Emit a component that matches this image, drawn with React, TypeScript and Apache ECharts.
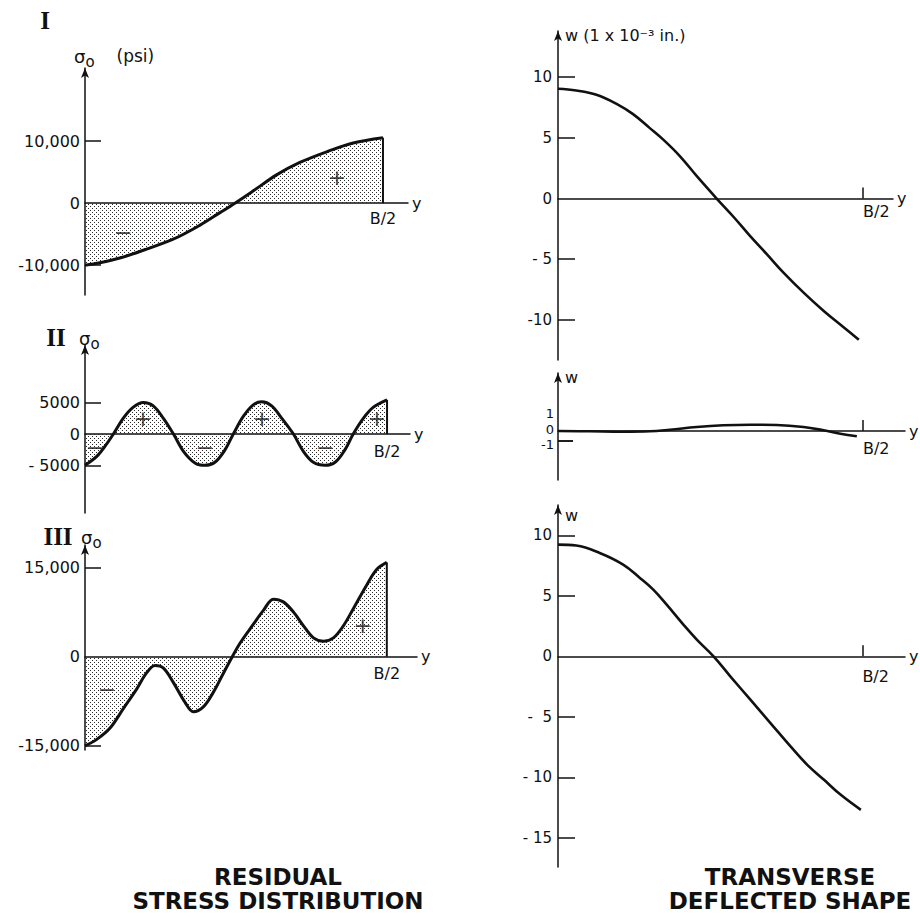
import React, { useEffect, useRef } from 'react';
import * as echarts from 'echarts';

// ---------------- data (x in units of B/2) ----------------
// Residual stress distributions (psi)
const stressIx = [0, 0.05, 0.117, 0.196, 0.296, 0.386, 0.453, 0.503, 0.565, 0.643, 0.721, 0.811, 0.9, 1.0];
const stressIv = [-10000, -9600, -8840, -7580, -5810, -3540, -1520, 0, 2000, 4570, 6570, 8290, 9710, 10570];

const stressIIx = [0, 0.039, 0.066, 0.094, 0.127, 0.16, 0.193, 0.226, 0.259, 0.293, 0.326, 0.364, 0.397, 0.43, 0.464, 0.491, 0.524, 0.557, 0.585, 0.618, 0.651, 0.69, 0.723, 0.756, 0.795, 0.828, 0.861, 0.888, 0.922, 0.955, 1.0];
const stressIIv = [-4950, -3530, -1950, 0, 2530, 4260, 5000, 4470, 2530, 0, -2740, -4580, -4950, -4470, -2470, 0, 2790, 4630, 5100, 4470, 2530, 0, -2740, -4470, -4950, -4470, -2470, 0, 2530, 4260, 5420];

const stressIIIx = [0, 0.039, 0.083, 0.127, 0.171, 0.204, 0.232, 0.26, 0.293, 0.331, 0.359, 0.392, 0.425, 0.459, 0.488, 0.514, 0.558, 0.591, 0.624, 0.657, 0.691, 0.724, 0.757, 0.79, 0.823, 0.856, 0.889, 0.934, 0.967, 1.0];
const stressIIIv = [-15000, -13910, -12000, -8730, -5450, -2730, -1470, -1910, -4360, -7640, -9270, -8450, -6000, -2730, 0, 2310, 5480, 7790, 9690, 9230, 7500, 5190, 3170, 2600, 3170, 5190, 8080, 12120, 14710, 15870];

// Transverse deflected shapes (1e-3 in.)
const deflIx = [0, 0.06, 0.126, 0.192, 0.246, 0.301, 0.345, 0.4, 0.455, 0.52, 0.575, 0.63, 0.685, 0.739, 0.805, 0.871, 0.936, 0.986];
const deflIv = [9.04, 8.9, 8.55, 7.8, 6.95, 5.8, 4.85, 3.48, 1.84, 0, -1.5, -3.1, -4.6, -6.1, -7.75, -9.26, -10.6, -11.64];

const deflIIx = [0, 0.104, 0.214, 0.301, 0.367, 0.455, 0.542, 0.63, 0.717, 0.805, 0.871, 0.926, 0.98];
const deflIIv = [0, -0.03, -0.07, -0.03, 0.13, 0.4, 0.57, 0.63, 0.6, 0.4, 0.07, -0.27, -0.53];

const deflIIIx = [0, 0.06, 0.137, 0.214, 0.269, 0.313, 0.357, 0.412, 0.456, 0.511, 0.566, 0.632, 0.698, 0.764, 0.819, 0.874, 0.929, 0.995];
const deflIIIv = [9.23, 9.15, 8.54, 7.58, 6.48, 5.51, 4.27, 2.62, 1.38, 0, -1.65, -3.58, -5.51, -7.44, -8.96, -10.2, -11.44, -12.68];

// sign annotations inside the shaded areas: [x, value, sign]
const signsI: [number, number, string][] = [[0.128, -4800, '−'], [0.846, 4200, '+']];
const signsII: [number, number, string][] = [
  [0.033, -2200, '−'], [0.192, 2400, '+'], [0.397, -2200, '−'],
  [0.586, 2400, '+'], [0.795, -2200, '−'], [0.967, 2400, '+'],
];
const signsIII: [number, number, string][] = [[0.073, -5600, '−'], [0.92, 5300, '+']];

// tick labels
const yLabelValsI = [10000, 0, -10000];
const yLabelsI = ['10,000', '0', '-10,000'];
const yTickValsI = [10000, -10000];
const yLabelValsII = [5000, 0, -5000];
const yLabelsII = ['5000', '0', '- 5000'];
const yTickValsII = [5000, -5000];
const yLabelValsIII = [15000, 0, -15000];
const yLabelsIII = ['15,000', '0', '-15,000'];
const yTickValsIII = [15000, -15000];

const yLabelValsIV = [10, 5, 0, -5, -10];
const yLabelsIV = ['10', '5', '0', '- 5', '-10'];
const yTickValsIV = [10, 5, -5, -10];
// middle deflection panel: labels split over two axes (they sit very close)
const yLabelValsV = [1, 0];
const yLabelsV = ['{up|1}', '{z0|0}'];
const yTickValsV: number[] = [];
const yLabelValsVb = [-1];
const yLabelsVb = ['{dn|-1}'];
const yTickValsVb = [-1];
const yLabelValsVI = [10, 5, 0, -5, -10, -15];
const yLabelsVI = ['10', '5', '0', '-  5', '- 10', '- 15'];
const yTickValsVI = [10, 5, -5, -10, -15];

const xEndValue = 1; // B/2
const xEndLabel = 'B/2';

// ---------------- styling ----------------
const INK = '#111';
const FONT = 'DejaVu Sans';

function dotPattern(): string {
  const c = document.createElement('canvas');
  c.width = 4;
  c.height = 4;
  const g = c.getContext('2d')!;
  g.fillStyle = '#2a2a2a';
  g.fillRect(0, 0, 1, 1);
  g.fillRect(2, 2, 1, 1);
  return c.toDataURL();
}

const pairs = (xs: number[], vs: number[]) => xs.map((x, i) => [x, vs[i]]);

function labelFormatter(vals: number[], labels: string[]) {
  return (v: number) => {
    const k = vals.findIndex((t) => Math.abs(t - v) < 1e-6 * Math.max(1, Math.abs(t)));
    return k >= 0 ? labels[k] : '';
  };
}

function buildOption(pattern: string) {
  const gridBoxes = [
    { left: 85, top: 68, width: 323, height: 227 },
    { left: 85, top: 345, width: 325, height: 168 },
    { left: 85, top: 545, width: 332, height: 205 },
    { left: 558, top: 31, width: 335, height: 329 },
    { left: 558, top: 373, width: 347, height: 107 },
    { left: 558, top: 505, width: 347, height: 362 },
  ];
  const grids = gridBoxes.map((g) => ({ ...g, containLabel: false, outerBoundsMode: 'none' }));

  const xMax = [1.084, 1.076, 1.1, 1.098, 1.138, 1.14];
  const xLabelMargin = [7, 9, 9, 5, 9, 12];
  const yRange: [number, number][] = [
    [-14800, 21800], [-12500, 14100], [-15700, 18800],
    [-13.3, 13.8], [-4.9, 5.8], [-17.4, 12.5],
  ];
  const yLab = [
    [yLabelValsI, yLabelsI, yTickValsI],
    [yLabelValsII, yLabelsII, yTickValsII],
    [yLabelValsIII, yLabelsIII, yTickValsIII],
    [yLabelValsIV, yLabelsIV, yTickValsIV],
    [yLabelValsV, yLabelsV, yTickValsV],
    [yLabelValsVI, yLabelsVI, yTickValsVI],
  ] as [number[], string[], number[]][];

  const xAxis = xMax.map((max, i) => {
    const right = i >= 3;
    const [ymin, ymax] = yRange[i];
    // lift the x axis (line, ticks, labels, name) from the grid bottom up to the zero line
    const lift = (gridBoxes[i].height * (0 - ymin)) / (ymax - ymin);
    return {
      gridIndex: i,
      type: 'value',
      position: 'bottom',
      offset: -lift,
      min: 0,
      max,
      axisLine: { onZero: false, lineStyle: { color: INK, width: 1.5 } },
      axisTick: right
        ? { show: true, inside: true, length: 11, customValues: [xEndValue], lineStyle: { color: INK, width: 1.5 } }
        : { show: false },
      axisLabel: {
        customValues: [xEndValue],
        formatter: () => xEndLabel,
        margin: xLabelMargin[i],
        align: right ? 'left' : 'center',
        color: INK,
        fontFamily: FONT,
        fontSize: 16,
        hideOverlap: false,
      },
      splitLine: { show: false },
      name: 'y',
      nameLocation: 'end',
      nameGap: 4,
      nameTextStyle: { color: INK, fontFamily: FONT, fontSize: 16, verticalAlign: 'middle', padding: [0, 0, 2, 0] },
    };
  });

  const makeY = (i: number, lv: number[], ls: string[], tv: number[], showLine: boolean) => {
    const right = i >= 3;
    const tight = i === 4;
    const [min, max] = yRange[i];
    const small = { fontFamily: FONT, fontSize: 13, color: INK };
    return {
      gridIndex: i,
      type: 'value',
      position: 'left',
      min,
      max,
      axisLine: {
        show: showLine,
        onZero: false,
        symbol: ['none', 'arrow'],
        symbolSize: [6, 10],
        lineStyle: { color: INK, width: 1.5 },
      },
      axisTick: {
        show: tv.length > 0,
        inside: true,
        length: tight ? 15 : right ? 17 : 16,
        customValues: tv.length ? tv : undefined,
        lineStyle: { color: INK, width: 1.5 },
      },
      axisLabel: {
        customValues: lv,
        formatter: labelFormatter(lv, ls),
        margin: tight ? 4 : right ? 6 : 5,
        color: INK,
        fontFamily: FONT,
        fontSize: tight ? 13 : right ? 15 : 16,
        hideOverlap: false,
        showMinLabel: true,
        showMaxLabel: true,
        rich: {
          up: { ...small, padding: [0, 0, 16, 0] },
          z0: { ...small, padding: [0, 0, 4, 0] },
          dn: { ...small, padding: [6, 0, 0, 0] },
        },
      },
      splitLine: { show: false },
    };
  };

  const yAxis = yLab.map(([lv, ls, tv], i) => makeY(i, lv, ls, tv, true));
  // extra label-only axis for the "-1" of the middle deflection panel
  yAxis.push(makeY(4, yLabelValsVb, yLabelsVb, yTickValsVb, false));

  const patternFill = { image: pattern, repeat: 'repeat', imageWidth: 4, imageHeight: 4 };

  const stressSets = [
    [stressIx, stressIv, signsI],
    [stressIIx, stressIIv, signsII],
    [stressIIIx, stressIIIv, signsIII],
  ] as [number[], number[], [number, number, string][]][];

  const series: any[] = [];
  stressSets.forEach(([xs, vs, signs], i) => {
    series.push({
      type: 'line',
      xAxisIndex: i,
      yAxisIndex: i,
      data: pairs(xs, vs),
      smooth: 0.35,
      symbol: 'none',
      lineStyle: { color: INK, width: 3 },
      areaStyle: { color: patternFill, opacity: 1, origin: 0 },
      z: 3,
    });
    series.push({
      type: 'line',
      xAxisIndex: i,
      yAxisIndex: i,
      data: [[xs[xs.length - 1], 0], [xs[xs.length - 1], vs[vs.length - 1]]],
      symbol: 'none',
      lineStyle: { color: INK, width: 2 },
      z: 3,
    });
    series.push({
      type: 'scatter',
      xAxisIndex: i,
      yAxisIndex: i,
      symbolSize: 1,
      itemStyle: { color: 'rgba(0,0,0,0)' },
      data: signs.map(([x, v, s]) => ({ value: [x, v], name: s })),
      label: {
        show: true,
        position: 'inside',
        formatter: '{b}',
        color: INK,
        fontFamily: FONT,
        fontSize: 22,
      },
      z: 4,
    });
  });

  const deflSets = [
    [deflIx, deflIv],
    [deflIIx, deflIIv],
    [deflIIIx, deflIIIv],
  ];
  // tick length of the middle deflection panel, in B/2 units (15 px of 305 px)
  const tickLenV = 15 / 305;
  deflSets.forEach(([xs, vs], k) => {
    const i = k + 3;
    const s: any = {
      type: 'line',
      xAxisIndex: i,
      yAxisIndex: i,
      data: pairs(xs, vs),
      smooth: 0.4,
      symbol: 'none',
      lineStyle: { color: INK, width: 2.6 },
      z: 3,
    };
    if (i === 4) {
      s.markLine = {
        silent: true,
        symbol: ['none', 'none'],
        label: { show: false },
        lineStyle: { color: INK, width: 1.5, type: 'solid' },
        data: yTickValsVb.map((t) => [{ coord: [0, t] }, { coord: [tickLenV, t] }]),
      };
    }
    series.push(s);
  });

  const txt = (x: number, y: number, text: string, font: string, align = 'left', lineHeight?: number) => ({
    type: 'text',
    x,
    y,
    style: { text, font, fill: INK, align, verticalAlign: 'middle', lineHeight },
  });

  const sigma = (x: number, y: number, suffix = '') => ({
    type: 'text',
    x,
    y,
    style: {
      text: '{s|σ}{o|o}' + (suffix ? '{p|' + suffix + '}' : ''),
      fill: INK,
      align: 'left',
      verticalAlign: 'middle',
      rich: {
        s: { fontFamily: FONT, fontSize: 18, lineHeight: 18, verticalAlign: 'top', fill: INK },
        o: { fontFamily: FONT, fontSize: 15, lineHeight: 16, padding: [7, 0, 0, 0], verticalAlign: 'top', fill: INK },
        p: { fontFamily: FONT, fontSize: 17, lineHeight: 18, verticalAlign: 'top', padding: [0, 0, 0, 22], fill: INK },
      },
    },
  });

  const roman = 'bold 25px "Liberation Serif"';
  const titleFont = 'bold 23px "DejaVu Sans"';

  const graphic = [
    txt(45, 20, 'I', roman, 'center'),
    txt(56, 337, 'II', roman, 'center'),
    txt(58, 536, 'III', roman, 'center'),
    sigma(74, 56, '(psi)'),
    sigma(79, 338),
    sigma(81, 537),
    txt(565, 35, 'w (1 x 10⁻³ in.)', `16px "${FONT}"`),
    txt(565, 377, 'w', `16px "${FONT}"`),
    txt(565, 515, 'w', `16px "${FONT}"`),
    txt(278, 889, 'RESIDUAL\nSTRESS DISTRIBUTION', titleFont, 'center', 24),
    txt(790, 889, 'TRANSVERSE\nDEFLECTED SHAPE', titleFont, 'center', 24),
  ];

  return {
    animation: false,
    backgroundColor: '#ffffff',
    grid: grids,
    xAxis,
    yAxis,
    series,
    graphic,
  };
}

export default function App() {
  const ref = useRef<HTMLDivElement>(null);
  useEffect(() => {
    if (!ref.current) return;
    const chart = echarts.init(ref.current, undefined, { renderer: 'svg' });
    chart.setOption(buildOption(dotPattern()) as any);
    return () => chart.dispose();
  }, []);
  return (
    <div
      ref={ref}
      style={{ position: 'absolute', left: 0, top: 0, width: 920, height: 918, background: '#fff' }}
    />
  );
}
